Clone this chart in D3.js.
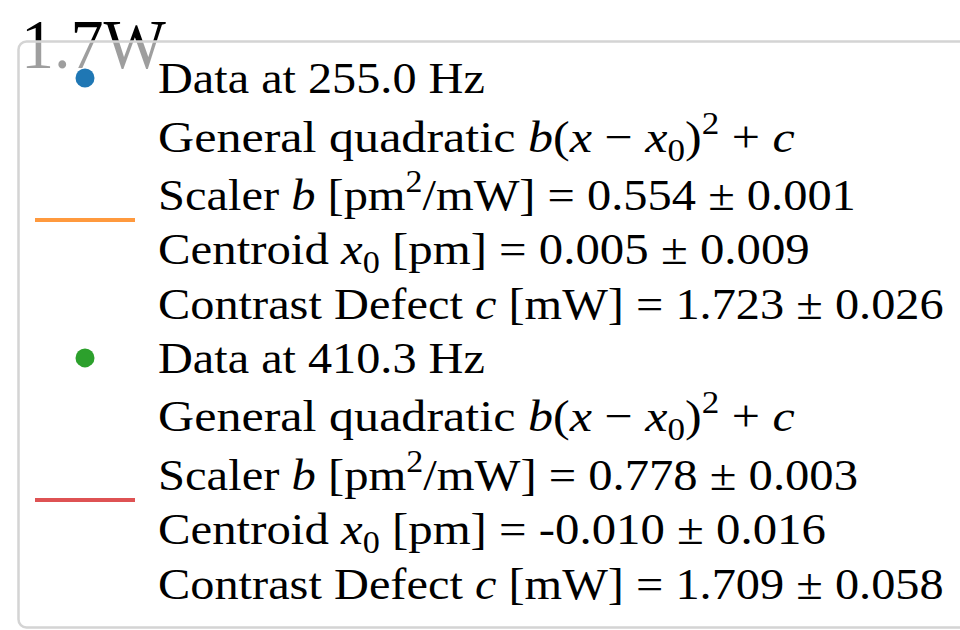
<!DOCTYPE html>
<html>
<head>
<meta charset="utf-8">
<script src="https://cdn.jsdelivr.net/npm/d3@7"></script>
<style>
html,body{margin:0;padding:0;background:#fff;}
svg{display:block;}
</style>
</head>
<body>
<svg id="chart" width="960" height="630"></svg>
<script>
// ---- data ----
const frequencies = [255.0, 410.3];
const scalerB = [0.554, 0.778];
const scalerBErr = [0.001, 0.003];
const centroidX0 = ["0.005", "-0.010"];
const centroidX0Err = [0.009, 0.016];
const contrastC = [1.723, 1.709];
const contrastCErr = [0.026, 0.058];
const dataColors = ["#1f77b4", "#2ca02c"];
const fitColors = ["#ff7f0e", "#d62728"];
const tickLabel = "1.7W";

// ---- layout ----
const W = 960, H = 630;
const svg = d3.select("#chart");
const fontFamily = "'Liberation Serif', 'Times New Roman', serif";
const fontSize = 45;
const textX = 158;
const handleX = 85;
// target line widths (layout) for each legend line within a series block
const lineWidths = [
  [327, 637, 698, 652, 786],
  [327, 637, 700, 668, 786]
];

// background tick label (sits behind the semi-transparent legend frame)
const tick = svg.append("g").attr("transform", "translate(21,68)");
const tickText = tick.append("text")
  .attr("font-family", fontFamily)
  .attr("font-size", 70)
  .attr("fill", "#000")
  .text(tickLabel);
{
  const bb = tickText.node().getBBox();
  tickText.attr("transform", `scale(${145 / (bb.x + bb.width)},1)`);
}

// legend frame
svg.append("rect")
  .attr("x", 18.5).attr("y", 41.5)
  .attr("width", 960).attr("height", 586)
  .attr("rx", 8).attr("ry", 8)
  .attr("fill", "#fff").attr("fill-opacity", 0.62)
  .attr("stroke", "#d4d4d4").attr("stroke-width", 2.5);

const fmt3 = d3.format(".3f");
const fmt1 = d3.format(".1f");

// build legend lines as lists of segments
function blockLines(i) {
  return [
    [{t: `Data at ${fmt1(frequencies[i])} Hz`}],
    [{t: "General quadratic "}, {t: "b", it: true}, {t: "("}, {t: "x", it: true},
     {t: " \u2212 "}, {t: "x", it: true}, {t: "0", sub: true}, {t: ")"}, {t: "2", sup: true},
     {t: " + "}, {t: "c", it: true}],
    [{t: "Scaler "}, {t: "b", it: true}, {t: " [pm"}, {t: "2", sup: true},
     {t: `/mW] = ${fmt3(scalerB[i])} \u00b1 ${fmt3(scalerBErr[i])}`}],
    [{t: "Centroid "}, {t: "x", it: true}, {t: "0", sub: true},
     {t: ` [pm] = ${centroidX0[i]} \u00b1 ${fmt3(centroidX0Err[i])}`}],
    [{t: "Contrast Defect "}, {t: "c", it: true},
     {t: ` [mW] = ${fmt3(contrastC[i])} \u00b1 ${fmt3(contrastCErr[i])}`}]
  ];
}

const allLines = [];
frequencies.forEach((f, i) => {
  blockLines(i).forEach((segs, j) => allLines.push({segs, block: i, idx: j}));
});

// baselines: base spacing, taller for lines with superscripts
let y = 93;
allLines.forEach((ln, k) => {
  if (k > 0) {
    const hasSup = ln.segs.some(s => s.sup);
    y += hasSup ? 58.5 : 54.3;
  }
  ln.y = y;
});

const lineG = svg.append("g").selectAll("g.line")
  .data(allLines).join("g")
  .attr("class", "line");

lineG.each(function(ln) {
  const g = d3.select(this);
  const txt = g.append("text")
    .attr("font-family", fontFamily)
    .attr("font-size", fontSize)
    .attr("fill", "#000")
    .attr("x", 0).attr("y", 0);
  let shift = 0;
  ln.segs.forEach(s => {
    const ts = txt.append("tspan").text(s.t);
    let target = 0;
    if (s.sub) target = 9;
    if (s.sup) target = -18;
    if (target !== shift) { ts.attr("dy", target - shift); shift = target; }
    if (s.sub || s.sup) ts.attr("font-size", fontSize * 0.7);
    if (s.it) ts.attr("font-style", "italic");
  });
  txt.attr("xml:space", "preserve").style("white-space", "pre");
  const bb = txt.node().getBBox();
  const target = lineWidths[ln.block][ln.idx];
  const sx = target / (bb.x + bb.width);
  g.attr("transform", `translate(${textX},${ln.y}) scale(${sx},1)`);
});

// legend handles
const blocks = frequencies.map((f, i) => {
  const ls = allLines.filter(l => l.block === i);
  return {
    i,
    dotY: ls[0].y - 15,
    lineY: (ls[1].y + ls[4].y) / 2 - 15
  };
});

svg.append("g").selectAll("circle")
  .data(blocks).join("circle")
  .attr("cx", handleX)
  .attr("cy", d => d.dotY)
  .attr("r", 9.5)
  .attr("fill", d => dataColors[d.i]);

svg.append("g").selectAll("line")
  .data(blocks).join("line")
  .attr("x1", 35).attr("x2", 135)
  .attr("y1", d => d.lineY).attr("y2", d => d.lineY)
  .attr("stroke", d => fitColors[d.i])
  .attr("stroke-opacity", 0.8)
  .attr("stroke-width", 4);
</script>
</body>
</html>
